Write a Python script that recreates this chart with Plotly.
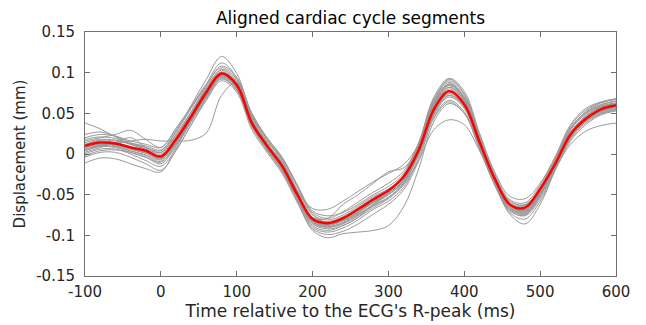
import plotly.graph_objects as go

time_ms = [-100, -80, -60, -40, -20, 0, 20, 40, 60, 80, 100, 120, 140, 160, 180, 200, 220, 240,
           260, 280, 300, 320, 340, 360, 380, 400, 420, 440, 460, 480, 500, 520, 540, 560, 580, 600]

mean_segment = [0.010, 0.014, 0.013, 0.008, 0.004, -0.003, 0.018, 0.046, 0.076, 0.099, 0.085, 0.038,
                0.010, -0.015, -0.050, -0.080, -0.085, -0.079, -0.068, -0.056, -0.045, -0.028, 0.005,
                0.055, 0.077, 0.061, 0.015, -0.030, -0.062, -0.066, -0.043, -0.012, 0.024, 0.043, 0.055, 0.060]

seg01 = [0.038, 0.031, 0.021, 0.012, 0.006, 0.002, 0.024, 0.052, 0.080, 0.104, 0.090, 0.046, 0.018, -0.008, -0.044, -0.075, -0.081, -0.075, -0.064, -0.052, -0.043, -0.027, 0.010, 0.062, 0.084, 0.067, 0.018, -0.028, -0.058, -0.063, -0.042, -0.008, 0.030, 0.050, 0.060, 0.065]
seg02 = [0.016, 0.020, 0.024, 0.029, 0.018, 0.008, 0.032, 0.058, 0.086, 0.112, 0.094, 0.050, 0.020, -0.005, -0.040, -0.072, -0.079, -0.071, -0.059, -0.047, -0.036, -0.021, 0.014, 0.068, 0.090, 0.073, 0.023, -0.024, -0.056, -0.060, -0.038, -0.004, 0.034, 0.054, 0.063, 0.067]
seg03 = [0.012, 0.017, 0.016, 0.013, 0.010, 0.005, 0.028, 0.060, 0.092, 0.120, 0.099, 0.047, 0.014, -0.011, -0.049, -0.083, -0.089, -0.084, -0.073, -0.059, -0.048, -0.032, 0.004, 0.060, 0.086, 0.070, 0.020, -0.031, -0.067, -0.073, -0.051, -0.013, 0.025, 0.046, 0.058, 0.062]
seg04 = [0.004, 0.010, 0.013, 0.016, 0.018, 0.016, 0.016, 0.017, 0.026, 0.072, 0.088, 0.050, 0.018, -0.006, -0.040, -0.074, -0.085, -0.082, -0.074, -0.062, -0.050, -0.034, 0.001, 0.054, 0.078, 0.064, 0.016, -0.031, -0.064, -0.069, -0.048, -0.011, 0.025, 0.045, 0.055, 0.059]
seg05 = [0.008, 0.012, 0.011, 0.006, 0.001, -0.004, 0.016, 0.045, 0.075, 0.097, 0.082, 0.038, 0.010, -0.015, -0.045, -0.067, -0.068, -0.058, -0.046, -0.034, -0.024, -0.013, 0.012, 0.060, 0.082, 0.066, 0.019, -0.027, -0.058, -0.062, -0.041, -0.007, 0.030, 0.049, 0.059, 0.063]
seg06 = [-0.002, 0.004, 0.005, 0.002, -0.004, -0.010, 0.012, 0.040, 0.070, 0.094, 0.080, 0.036, 0.008, -0.018, -0.052, -0.078, -0.079, -0.062, -0.050, -0.036, -0.022, -0.017, 0.008, 0.052, 0.074, 0.058, 0.012, -0.032, -0.062, -0.066, -0.045, -0.014, 0.020, 0.040, 0.052, 0.057]
seg07 = [0.000, 0.006, 0.006, 0.000, -0.008, -0.015, 0.006, 0.036, 0.068, 0.092, 0.078, 0.033, 0.004, -0.022, -0.058, -0.094, -0.103, -0.098, -0.096, -0.094, -0.088, -0.065, -0.018, 0.040, 0.062, 0.050, 0.008, -0.035, -0.068, -0.074, -0.052, -0.016, 0.020, 0.040, 0.050, 0.055]
seg08 = [0.006, 0.010, 0.009, 0.004, -0.001, -0.007, 0.014, 0.042, 0.072, 0.095, 0.082, 0.036, 0.006, -0.020, -0.055, -0.086, -0.092, -0.088, -0.078, -0.066, -0.055, -0.038, -0.008, 0.030, 0.042, 0.036, 0.004, -0.034, -0.064, -0.068, -0.048, -0.018, 0.012, 0.028, 0.035, 0.038]
seg09 = [-0.011, -0.005, -0.006, -0.012, -0.018, -0.022, 0.008, 0.040, 0.072, 0.096, 0.081, 0.037, 0.008, -0.017, -0.052, -0.085, -0.090, -0.085, -0.075, -0.063, -0.053, -0.036, 0.000, 0.050, 0.072, 0.058, 0.012, -0.033, -0.066, -0.071, -0.050, -0.015, 0.020, 0.040, 0.051, 0.056]
seg10 = [0.020, 0.024, 0.022, 0.016, 0.012, 0.008, 0.030, 0.058, 0.086, 0.106, 0.092, 0.044, 0.016, -0.009, -0.046, -0.078, -0.084, -0.078, -0.067, -0.054, -0.044, -0.028, 0.010, 0.066, 0.088, 0.070, 0.020, -0.028, -0.060, -0.064, -0.041, -0.006, 0.032, 0.051, 0.061, 0.065]
seg11 = [0.004, 0.009, 0.008, 0.002, -0.004, -0.012, 0.010, 0.040, 0.070, 0.093, 0.079, 0.034, 0.005, -0.020, -0.056, -0.090, -0.096, -0.091, -0.081, -0.068, -0.058, -0.041, -0.004, 0.048, 0.070, 0.056, 0.010, -0.036, -0.069, -0.076, -0.055, -0.018, 0.018, 0.038, 0.049, 0.054]
seg12 = [0.014, 0.018, 0.017, 0.012, 0.008, 0.002, 0.024, 0.052, 0.082, 0.103, 0.088, 0.042, 0.012, -0.012, -0.048, -0.080, -0.086, -0.080, -0.069, -0.056, -0.046, -0.030, 0.006, 0.058, 0.080, 0.064, 0.017, -0.029, -0.062, -0.067, -0.044, -0.010, 0.027, 0.047, 0.058, 0.062]
seg13 = [0.002, 0.008, 0.014, 0.020, 0.008, -0.004, 0.018, 0.048, 0.078, 0.100, 0.086, 0.041, 0.012, -0.014, -0.050, -0.082, -0.088, -0.082, -0.071, -0.058, -0.048, -0.032, 0.004, 0.062, 0.085, 0.068, 0.018, -0.030, -0.064, -0.070, -0.048, -0.012, 0.024, 0.044, 0.055, 0.060]
seg14 = [0.010, 0.014, 0.012, 0.006, 0.001, -0.006, 0.014, 0.044, 0.074, 0.098, 0.084, 0.038, 0.009, -0.016, -0.052, -0.084, -0.090, -0.086, -0.076, -0.064, -0.054, -0.037, 0.000, 0.046, 0.066, 0.052, 0.008, -0.038, -0.072, -0.080, -0.058, -0.020, 0.016, 0.036, 0.048, 0.053]
seg15 = [0.018, 0.021, 0.019, 0.012, 0.006, 0.000, 0.022, 0.050, 0.080, 0.101, 0.087, 0.042, 0.013, -0.012, -0.048, -0.078, -0.083, -0.077, -0.066, -0.054, -0.044, -0.029, 0.008, 0.064, 0.092, 0.074, 0.022, -0.032, -0.074, -0.086, -0.062, -0.018, 0.030, 0.052, 0.063, 0.068]
seg16 = [-0.004, 0.002, 0.002, -0.004, -0.012, -0.020, 0.004, 0.036, 0.066, 0.090, 0.076, 0.030, 0.002, -0.024, -0.060, -0.092, -0.099, -0.095, -0.086, -0.074, -0.062, -0.044, -0.008, 0.044, 0.064, 0.050, 0.006, -0.038, -0.070, -0.075, -0.052, -0.015, 0.022, 0.042, 0.053, 0.058]
seg17 = [0.024, 0.027, 0.022, 0.014, 0.008, 0.004, 0.027, 0.056, 0.084, 0.108, 0.094, 0.048, 0.020, -0.004, -0.038, -0.070, -0.076, -0.072, -0.062, -0.050, -0.040, -0.024, 0.014, 0.070, 0.093, 0.077, 0.026, -0.022, -0.052, -0.055, -0.036, -0.003, 0.036, 0.056, 0.064, 0.068]
seg18 = [0.008, 0.012, 0.010, 0.004, -0.002, -0.009, 0.012, 0.042, 0.073, 0.096, 0.083, 0.036, 0.007, -0.018, -0.054, -0.088, -0.094, -0.088, -0.078, -0.062, -0.048, -0.026, 0.012, 0.064, 0.086, 0.068, 0.016, -0.032, -0.066, -0.072, -0.050, -0.014, 0.022, 0.042, 0.053, 0.058]
seg19 = [0.011, 0.016, 0.014, 0.009, 0.004, -0.002, 0.020, 0.049, 0.078, 0.100, 0.086, 0.040, 0.011, -0.013, -0.049, -0.080, -0.086, -0.081, -0.071, -0.059, -0.050, -0.034, 0.002, 0.050, 0.072, 0.057, 0.012, -0.034, -0.066, -0.070, -0.047, -0.012, 0.024, 0.043, 0.054, 0.059]
seg20 = [0.006, 0.011, 0.011, 0.007, 0.002, -0.005, 0.016, 0.046, 0.076, 0.099, 0.086, 0.040, 0.010, -0.015, -0.051, -0.082, -0.087, -0.082, -0.072, -0.060, -0.050, -0.033, 0.004, 0.058, 0.082, 0.066, 0.018, -0.030, -0.063, -0.068, -0.046, -0.010, 0.026, 0.046, 0.057, 0.061]

segments = [seg01, seg02, seg03, seg04, seg05, seg06, seg07, seg08, seg09, seg10,
            seg11, seg12, seg13, seg14, seg15, seg16, seg17, seg18, seg19, seg20]

x_tickvals = [-100, 0, 100, 200, 300, 400, 500, 600]
x_ticktext = ["-100", "0", "100", "200", "300", "400", "500", "600"]
y_tickvals = [-0.15, -0.1, -0.05, 0, 0.05, 0.1, 0.15]
y_ticktext = ["-0.15", "-0.1", "-0.05", "0", "0.05", "0.1", "0.15"]

fig = go.Figure()
for seg in segments:
    fig.add_trace(go.Scatter(x=time_ms, y=seg, mode="lines",
                             line=dict(color="#999999", width=1, shape="spline", smoothing=1.0),
                             hoverinfo="skip", showlegend=False))
fig.add_trace(go.Scatter(x=time_ms, y=mean_segment, mode="lines",
                         line=dict(color="#ff0000", width=2.5, shape="spline", smoothing=1.0),
                         showlegend=False))

font_family = "DejaVu Sans, sans-serif"
axis_common = dict(showgrid=False, zeroline=False, showline=True, linecolor="#707070", linewidth=1,
                   mirror="ticks", ticks="inside", ticklen=5, tickcolor="#707070",
                   tickfont=dict(family=font_family, size=15, color="#262626"))

# page has an 8px body margin, so the figure is sized to fill the rest of the window
FIG_W, FIG_H = 638, 317

fig.update_layout(
    width=FIG_W, height=FIG_H,
    margin=dict(l=77, r=30, t=24, b=49),
    paper_bgcolor="white", plot_bgcolor="white",
    title=dict(text="Aligned cardiac cycle segments", xref="paper", x=0.5, xanchor="center",
               yref="container", y=1 - 10.5 / FIG_H, yanchor="middle",
               font=dict(family=font_family, size=17, color="#000000")),
    xaxis=dict(range=[-100, 600], tickvals=x_tickvals, ticktext=x_ticktext,
               ticklabelstandoff=2,
               title=dict(text="Time relative to the ECG's R-peak (ms)", standoff=0,
                          font=dict(family=font_family, size=17, color="#262626")),
               **axis_common),
    yaxis=dict(range=[-0.15, 0.15], tickvals=y_tickvals, ticktext=y_ticktext,
               ticklabelstandoff=6,
               title=dict(text="Displacement (mm)", standoff=6,
                          font=dict(family=font_family, size=15, color="#262626")),
               **axis_common),
)

fig.write_html("out.html")
